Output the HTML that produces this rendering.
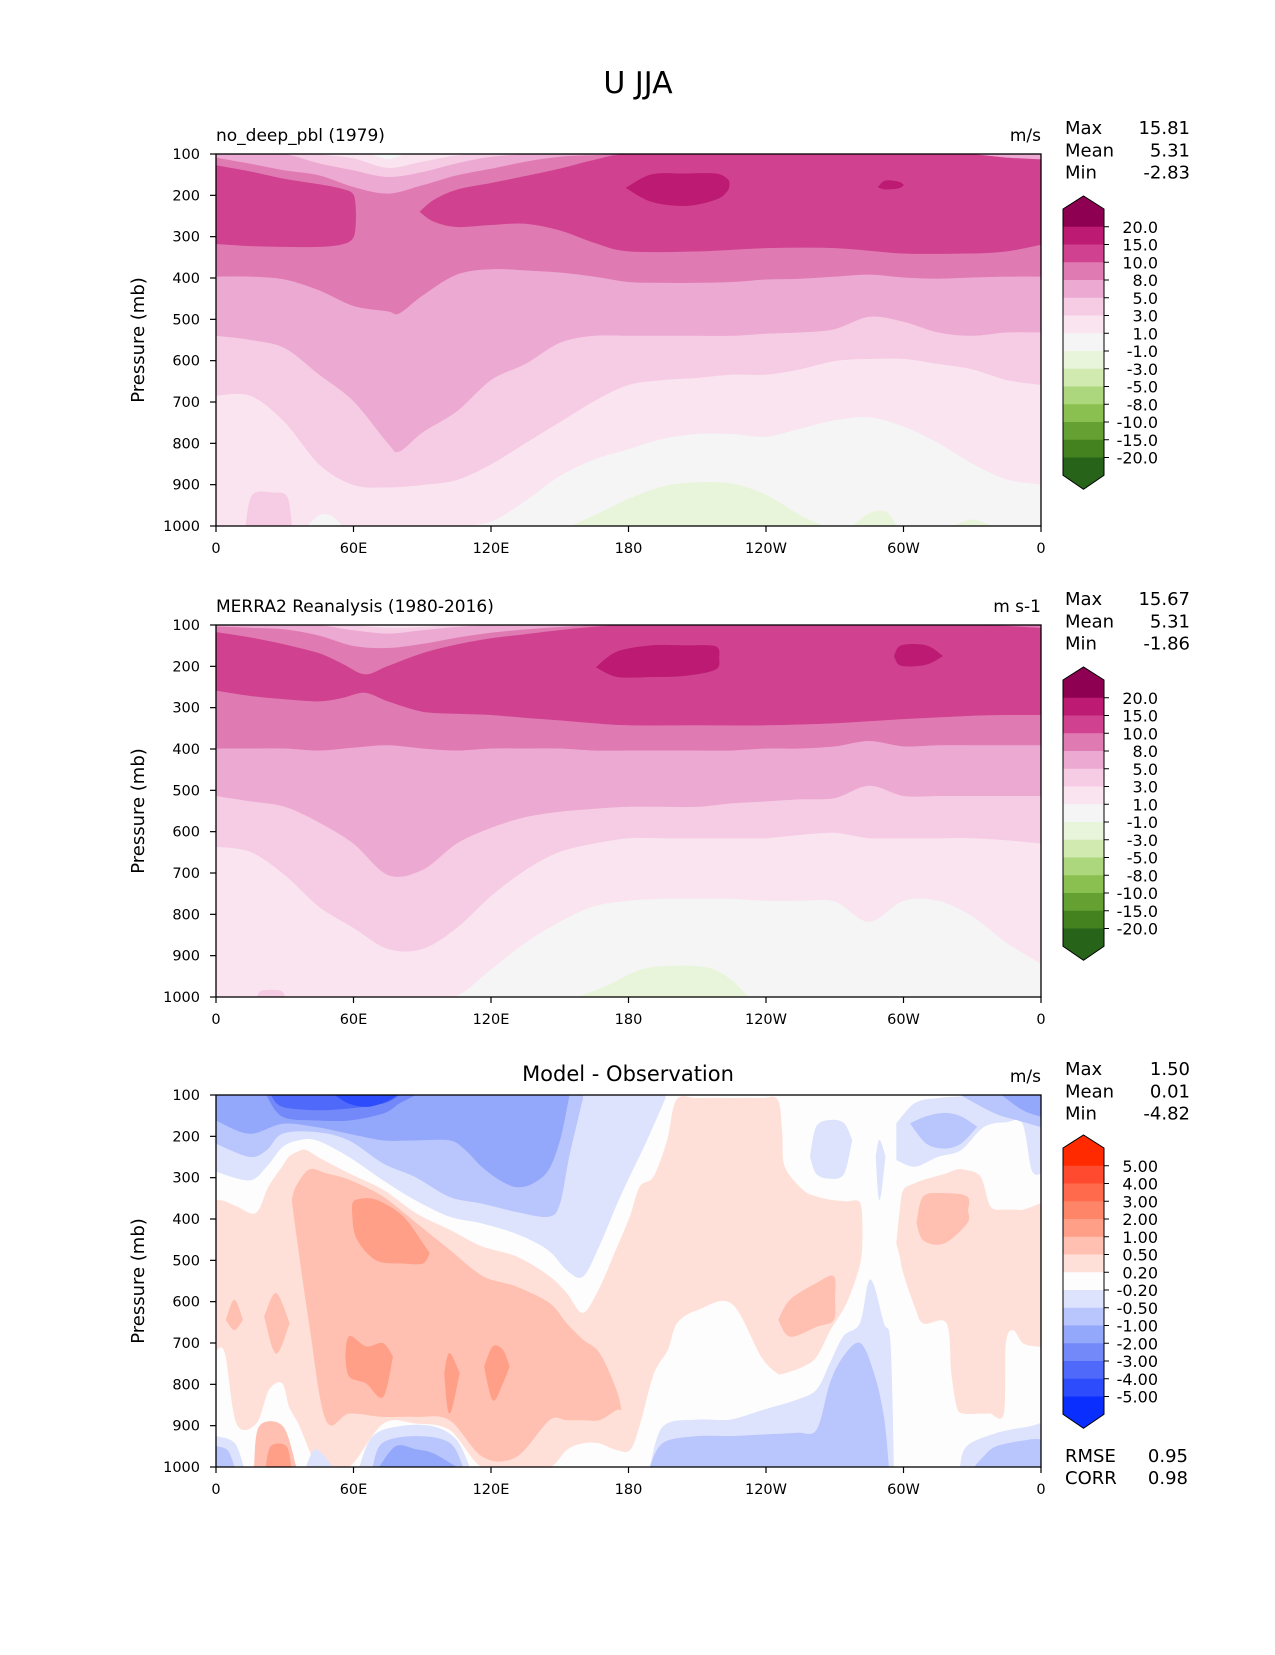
<!DOCTYPE html>
<html><head><meta charset="utf-8">
<style>
body{margin:0;background:#fff;}
svg text{font-family:"DejaVu Sans","Liberation Sans",sans-serif;fill:#000;}
</style></head>
<body>
<svg id="fig" xmlns="http://www.w3.org/2000/svg" width="1275" height="1650" viewBox="0 0 1275 1650">
<rect width="1275" height="1650" fill="#fff"/>
<text x="638" y="93" font-size="30" text-anchor="middle">U JJA</text>
</svg>
<script>
// ---------- colour scales ----------
const piygColors = ['#8e0152','#bd1a73','#d0428f','#e07ab3','#eca9d1','#f6cbe4','#f9e4ef','#f5f5f5','#e8f5da','#d0eab0','#acd77d','#89c04f','#64a132','#43821f','#276419'];
const piygLabels = ['20.0','15.0','10.0','8.0','5.0','3.0','1.0','-1.0','-3.0','-5.0','-8.0','-10.0','-15.0','-20.0'];
const diffColors = ['#ff2a00','#ff4a30','#ff6a4c','#ff8568','#ff9f88','#ffc0b1','#ffe0d8','#fdfdfd','#dde3fd','#b9c5fd','#94a8fb','#7389f9','#4f6afa','#2d4cfc','#0a2efd'];
const diffLabels = ['5.00','4.00','3.00','2.00','1.00','0.50','0.20','-0.20','-0.50','-1.00','-2.00','-3.00','-4.00','-5.00'];

// ---------- axes ----------
const yTicks = [100,200,300,400,500,600,700,800,900,1000];
const xTickLons = [0,60,120,180,240,300,360];
const xTickLabels = ['0','60E','120E','180','120W','60W','0'];
const G = [0,15,30,45,60,75,90,105,120,135,150,165,180,195,210,225,240,255,270,285,300,315,330,345,360];

// ---------- panel 1 (model) ----------
const p1GrayTop = [1000,1000,1000,1000,1000,1000,1000,1000,990,940,880,840,815,790,778,778,785,765,745,738,760,800,850,888,900];
const p1F6Bot = [684,684,748,850,900,906,900,888,850,799,748,697,658,646,641,633,633,620,600,595,595,607,620,646,658];
const p1EcLons = [0,15,30,45,60,75,80,90,105,120,135,150,165,180,195,210,225,240,255,270,285,300,315,330,345,360];
const p1EcBot = [539,549,569,633,697,799,819,773,722,646,607,556,539,539,539,539,539,534,531,523,493,505,531,539,531,531];
const p1E0Lons = [0,15,30,45,60,75,80,90,105,120,135,150,165,180,195,210,225,240,255,270,285,300,315,330,345,360];
const p1E0Bot = [396,396,403,429,467,480,485,442,391,378,381,386,396,409,411,411,409,403,401,396,391,398,401,398,396,396];
const p1DLLons = [0,15,30,45,55,60,61];
const p1DLTop = [128,143,161,174,185,200,250];
const p1DLBot = [317,322,324,324,318,300,250];
const p1DRLons = [89,95,105,120,135,150,165,180,210,240,270,300,330,345,360];
const p1DRTop = [240,212,187,171,154,136,115,100,100,100,100,100,100,105,110];
const p1DRBot = [240,263,276,271,268,284,314,335,335,327,327,340,340,335,319];
const p1CoreLons = [179,190,205,218,223,224];
const p1CoreTop = [182,150,148,148,160,172];
const p1CoreBot = [182,215,225,210,190,172];
const p1Core2Lons = [289,292,298,300];
const p1Core2Top = [180,165,168,175];
const p1Core2Bot = [180,185,182,175];
const p1CapEc = [108,123,139,151,179,195,175,151,135,118,106,102,100,100,100,100,100,100,100,100,100,100,100,108,112];
const p1CapF6 = [100,100,100,122,139,155,143,122,106,100,100,100,100,100,100,100,100,100,100,100,100,100,100,100,100];
const p1CapF9Lons = [45,60,75,90,105,120];
const p1CapF9 = [100,110,133,118,103,100];
const p1CapWLons = [68,75,82];
const p1CapW = [100,112,100];
const p1GreenLons = [155,165,180,195,210,225,240,255,265];
const p1GreenTop = [1000,975,935,905,895,898,925,975,1000];
const p1Green2Lons = [278,285,292,297];
const p1Green2Top = [1000,970,965,1000];
const p1Green3Lons = [322,330,338];
const p1Green3Top = [1000,985,1000];
const p1PinkLons = [13,16,25,31,33];
const p1PinkTop = [1000,925,920,930,1000];
const p1GrayBitLons = [40,45,50,55];
const p1GrayBitTop = [1000,975,975,1000];

// ---------- panel 2 (MERRA2) ----------
const p2GrayTop = [1000,1000,1000,1000,1000,1000,1000,998,934,870,819,781,768,763,763,763,768,768,770,819,768,768,806,870,921];
const p2F6Bot = [636,648,704,781,832,883,883,832,755,692,648,628,615,615,615,615,615,607,602,615,615,615,615,620,628];
const p2EcBot = [513,526,539,577,628,704,692,628,590,564,551,544,539,539,539,531,526,521,518,488,513,513,513,513,513];
const p2E0Bot = [398,398,398,403,396,390,398,403,398,398,398,403,403,403,403,403,398,398,393,380,393,390,390,390,390];
const p2DLons = [0,15,30,45,55,65,75,90,105,120,135,150,165,180,210,240,270,300,330,345,360];
const p2DTop = [118,131,148,169,194,220,200,169,148,133,123,113,105,100,100,100,100,100,100,103,108];
const p2DBot = [258,271,279,284,276,263,284,309,314,317,324,330,337,342,342,342,337,327,319,317,317];
const p2CoreLons = [166,175,190,205,218,219.5];
const p2CoreTop = [202,165,150,150,152,180];
const p2CoreBot = [202,225,225,222,207,180];
const p2Core2Lons = [296,299,310,317];
const p2Core2Top = [175,150,150,175];
const p2Core2Bot = [175,198,195,175];
const p2CapEc = [103,106,110,125,150,155,145,130,118,110,104,100,100,100,100,100,100,100,100,100,100,100,100,100,100];
const p2CapF6 = [100,100,100,100,112,120,112,104,100,100,100,100,100,100,100,100,100,100,100,100,100,100,100,100,100];
const p2CapF9Lons = [60,75,90,100];
const p2CapF9 = [100,106,104,100];
const p2GreenLons = [158,170,185,200,215,225,232];
const p2GreenTop = [1000,975,935,925,930,960,1000];
const p2PinkLons = [18,20,28,30];
const p2PinkTop = [1000,985,985,1000];

// ---------- panel 3 (difference) ----------
const p3BlueALons = [0,14.5,22,29,36,44,58,73,87,102,116,131,145,153,160,167,175,181,188,196];
const p3BlueABot = [285,306,273,225,209,209,249,306,354,394,410,435,475,523,539,467,362,290,209,108];
const p3BlueBLons = [0,14.5,22,29,44,58,73,87,102,116,131,145,150,154,160];
const p3BlueBBot = [217,249,233,193,189,209,265,298,346,362,382,394,362,249,108];
const p3BlueCLons = [0,14.5,29,44,58,73,87,102,109,116,124,131,138,145,150,154];
const p3BlueCBot = [161,193,169,177,193,209,209,209,233,273,306,322,314,281,209,104];
const p3BlueDLons = [22,29,44,58,73,80,87];
const p3BlueDBot = [100,152,161,161,144,120,100];
const p3BlueELons = [24,29,44,58,73,80];
const p3BlueEBot = [100,128,136,132,120,100];
const p3BlueFLons = [52,58,66,74,79];
const p3BlueFBot = [100,120,128,116,100];
const p3PinkLons = [0,4,9,17.5,23,29,32,36,39,44,46.5,58,73,87,102,116,131,145.5,153,160,167,174.6,180.7,185,191,197,201,210,225,238,245,247,248,256,262,268,275,281,282];
const p3PinkTop = [354,358,370,386,322,273,249,237,233,249,257,290,330,386,427,467,491,539,580,628,572,475,394,322,298,209,112,108,108,108,112,193,273,330,346,354,358,362,435];
const p3PinkBot = [717,725,894,894,813,797,854,894,934,1000,1000,1000,894,894,910,1000,1000,1000,958,942,942,958,958,894,773,717,652,620,604,733,773,773,773,757,733,668,604,507,435];
const p3PinkRLons = [297,298.5,300,305,308.7,318.9,321,323.3,326.2,333.5,337.8,343.7,344.5,348,352.4,360];
const p3PinkRTop = [459,378,330,314,306,290,285,281,281,298,370,378,378,378,378,362];
const p3PinkRBot = [459,491,531,612,652,652,773,854,870,870,870,870,701,668,701,709];
const p3MidLons = [33.2,34.9,40.7,48,58.2,72.8,87.3,101.9,116.4,131,145.5,152.8,160,167.3,174.6,176.8];
const p3MidTop = [354,322,281,290,306,346,410,475,539,564,604,652,692,725,813,862];
const p3MidBot = [354,427,652,886,870,878,878,886,975,975,886,886,886,886,862,862];
const p3HotLons = [59.4,61.1,69.8,81.5,90.2,93.1];
const p3HotTop = [370,354,354,394,459,483];
const p3HotBot = [370,443,499,507,507,483];
const p3StrALons = [56.5,58.2,65.5,72.8,77.1];
const p3StrATop = [733,684,709,701,733];
const p3StrABot = [733,781,797,830,733];
const p3StrBLons = [99.7,101.9,106.2];
const p3StrBTop = [773,725,773];
const p3StrBBot = [773,870,773];
const p3StrCLons = [117.1,120.8,125.1,128];
const p3StrCTop = [757,709,717,757];
const p3StrCBot = [757,838,797,757];
const p3SmAlons = [4.4,8,11.6];
const p3SmATop = [644,596,644];
const p3SmABot = [644,668,644];
const p3SmBLons = [21.1,26.2,32];
const p3SmBTop = [636,580,652];
const p3SmBBot = [636,725,652];
const p3BLMidLons = [16.7,18.9,29.1,34.9];
const p3BLMidTop = [1000,902,902,1000];
const p3BLHotLons = [21.8,24,30.6,32.7];
const p3BLHotTop = [1000,950,950,1000];
const p3MidCLons = [245.5,250.5,262.2,269.5,270];
const p3MidCTop = [644,596,555,539,592];
const p3MidCBot = [644,684,660,644,592];
const p3MidRLons = [305.8,308.7,317.5,327.7,328];
const p3MidRTop = [410,346,338,346,380];
const p3MidRBot = [410,451,459,410,380];
const p3BotA1Lons = [62.6,68.4,80,94.6,104.8,110.6];
const p3BotA1Top = [1000,926,902,902,934,1000];
const p3BotA2Lons = [68.4,72.8,87.3,101.9,107.7];
const p3BotA2Top = [1000,942,926,942,1000];
const p3BotA3Lons = [71.3,78.6,87.3,94.6,104.8];
const p3BotA3Top = [1000,950,958,967,1000];
const p3BotL1Lons = [0,8,12];
const p3BotL1Top = [926,942,1000];
const p3BotL2Lons = [0,5,8];
const p3BotL2Top = [950,960,1000];
const p3BotL3Lons = [39.3,43.6,50.9];
const p3BotL3Top = [1000,958,1000];
const p3BotB1Lons = [189.4,195.2,209.8,224.4,238.9,253.5,262.2,268,273.8,281.1,285.5,291.3,294.2,295.7];
const p3BotB1Top = [1000,902,886,886,862,838,813,749,684,652,547,652,701,1000];
const p3BotB2Lons = [189.4,195.2,209.8,224.4,238.9,253.5,262.2,268,273.8,281.1,287,291.3,293.5];
const p3BotB2Top = [1000,942,926,926,922,918,910,797,733,701,773,878,1000];
const p3BotR1Lons = [324.7,327.7,340.8,355.3,360];
const p3BotR1Top = [1000,950,918,902,894];
const p3BotR2Lons = [331,335,340.8,355.3,360];
const p3BotR2Top = [1000,975,950,934,934];
const p3R1Lons = [259.3,262,268,274,277.5];
const p3R1Top = [249,177,161,169,209];
const p3R1Bot = [249,290,302,290,209];
const p3R2Lons = [297,305,315,325,335,345,352,356,360];
const p3R2Top = [169,120,108,104,100,100,100,100,100];
const p3R2Bot = [257,273,249,233,177,165,169,281,290];
const p3R3Lons = [303,310,318,325,332];
const p3R3Top = [169,152,144,152,177];
const p3R3Bot = [169,217,229,217,177];
const p3R3bLons = [325,340,350,360];
const p3R3bBot = [100,144,161,177];
const p3R4Lons = [343,352,360];
const p3R4Bot = [100,136,152];
const p3StreakLons = [288,289.5,292];
const p3StreakTop = [249,209,249];
const p3StreakBot = [249,354,249];

// ---------- drawing ----------
const NS = 'http://www.w3.org/2000/svg';
const svg = document.getElementById('fig');
const X0 = 216, X1 = 1041, PH = 372;
function xOf(lon){ return X0 + lon/360*(X1-X0); }
function mk(tag, attrs, parent){
  const e = document.createElementNS(NS, tag);
  for (const k in attrs) e.setAttribute(k, attrs[k]);
  (parent||svg).appendChild(e);
  return e;
}
function txt(str, attrs, parent){ const t = mk('text', attrs, parent); t.textContent = str; return t; }

// smooth (Catmull-Rom) curve through points, returns path segment string (without initial M)
function curve(pts){
  let s = '';
  for (let i=0;i<pts.length-1;i++){
    const p0 = pts[Math.max(0,i-1)], p1 = pts[i], p2 = pts[i+1], p3 = pts[Math.min(pts.length-1,i+2)];
    const c1x = p1[0] + (p2[0]-p0[0])/6, c1y = p1[1] + (p2[1]-p0[1])/6;
    const c2x = p2[0] - (p3[0]-p1[0])/6, c2y = p2[1] - (p3[1]-p1[1])/6;
    s += ' C' + c1x.toFixed(1)+','+c1y.toFixed(1)+' '+c2x.toFixed(1)+','+c2y.toFixed(1)+' '+p2[0].toFixed(1)+','+p2[1].toFixed(1);
  }
  return s;
}

function makePanel(idx, y0){
  const yOf = p => y0 + (p-100)/900*PH;
  const g = mk('g', {'clip-path':'url(#clip'+idx+')'});
  
  
  const cp = mk('clipPath', {id:'clip'+idx});
  mk('rect', {x:X0, y:y0, width:X1-X0, height:PH}, cp);
  function band(lons, tops, bots, color, name){
    const top = [], bot = [];
    for (let i=0;i<lons.length;i++){
      top.push([xOf(lons[i]), yOf(tops ? tops[i] : 100) - (tops ? 0 : 3)]);
      bot.push([xOf(lons[i]), yOf(bots ? bots[i] : 1000) + (bots ? 0 : 3)]);
    }
    bot.reverse();
    const d = 'M' + top[0][0].toFixed(1)+','+top[0][1].toFixed(1) + curve(top) +
      ' L' + bot[0][0].toFixed(1)+','+bot[0][1].toFixed(1) + curve(bot) + ' Z';
    const path = mk('path', {d:d, fill:color, stroke:color, 'stroke-width':0.6}, g);
    
    
  }
  return {g, yOf, band, y0};
}

function drawAxes(P, idx){
  const y0 = P.y0;
  const fr = mk('rect', {x:X0, y:y0, width:X1-X0, height:PH, fill:'none', stroke:'#000', 'stroke-width':1.3});
  
  
  yTicks.forEach(p => {
    const y = P.yOf(p);
    mk('line', {x1:X0-6, x2:X0, y1:y, y2:y, stroke:'#000', 'stroke-width':1.2});
    const t = txt(String(p), {x:200, y:y+5, 'font-size':14.5, 'text-anchor':'end'});
    
    
  });
  xTickLons.forEach((lon,i) => {
    const x = xOf(lon);
    mk('line', {x1:x, x2:x, y1:y0+PH, y2:y0+PH+6, stroke:'#000', 'stroke-width':1.2});
    const t = txt(xTickLabels[i], {x:x, y:y0+PH+27, 'font-size':14.5, 'text-anchor':'middle'});
    
    
  });
  const yl = txt('Pressure (mb)', {x:0, y:0, 'font-size':18, 'text-anchor':'middle', transform:'translate(144,'+(y0+PH/2)+') rotate(-90)'});
  
  
}

function drawColorbar(top, colors, labels, idx){
  const cx0 = 1063, cx1 = 1104, bh = 17.75, rt = top + 13;
  const cb = mk('g', {});
  
  
  mk('polygon', {points:cx0+','+rt+' '+(cx0+cx1)/2+','+top+' '+cx1+','+rt, fill:colors[0]}, cb);
  colors.forEach((c,i) => {
    const r = mk('rect', {x:cx0, y:rt+i*bh, width:cx1-cx0, height:bh+0.5, fill:c}, cb);
    
    
  });
  const rb = rt + colors.length*bh;
  mk('polygon', {points:cx0+','+rb+' '+(cx0+cx1)/2+','+(rb+14)+' '+cx1+','+rb, fill:colors[colors.length-1]}, cb);
  mk('polygon', {points:cx0+','+rt+' '+(cx0+cx1)/2+','+top+' '+cx1+','+rt+' '+cx1+','+rb+' '+(cx0+cx1)/2+','+(rb+14)+' '+cx0+','+rb, fill:'none', stroke:'#000', 'stroke-width':1}, cb);
  labels.forEach((l,i) => {
    const y = rt + (i+1)*bh;
    mk('line', {x1:cx1, x2:cx1+5, y1:y, y2:y, stroke:'#000', 'stroke-width':1}, cb);
    const t = txt(l, {x:1158, y:y+6, 'font-size':16, 'text-anchor':'end'}, cb);
    
    
  });
}

function drawStats(y0, vals, idx){
  const names = ['Max','Mean','Min'];
  names.forEach((n,i) => {
    const y = y0 - 20 + i*22.3;
    const a = txt(n, {x:1065, y:y, 'font-size':18});  
    const b = txt(vals[i], {x:1190, y:y, 'font-size':18, 'text-anchor':'end'});  
  });
}

const C = piygColors;
// Panel 1
(function(){
  const P = makePanel(1, 154);
  mk('rect', {x:X0, y:154, width:X1-X0, height:PH, fill:C[6]}, P.g);
  P.band(G, p1GrayTop, null, C[7], 'band-near-zero');
  P.band(p1GrayBitLons, p1GrayBitTop, null, C[7], 'band-near-zero');
  P.band(p1GreenLons, p1GreenTop, null, C[8], 'band-negative');
  P.band(p1Green2Lons, p1Green2Top, null, C[8], 'band-negative');
  P.band(p1Green3Lons, p1Green3Top, null, C[8], 'band-negative');
  P.band(p1PinkLons, p1PinkTop, null, C[5], 'band-3-5');
  P.band(G, null, p1F6Bot, C[5], 'band-3-5');
  P.band(p1EcLons, null, p1EcBot, C[4], 'band-5-8');
  P.band(p1E0Lons, null, p1E0Bot, C[3], 'band-8-10');
  P.band(p1DLLons, p1DLTop, p1DLBot, C[2], 'band-10-15');
  P.band(p1DRLons, p1DRTop, p1DRBot, C[2], 'band-10-15');
  P.band(p1CoreLons, p1CoreTop, p1CoreBot, C[1], 'band-15-20');
  P.band(p1Core2Lons, p1Core2Top, p1Core2Bot, C[1], 'band-15-20');
  P.band(G, null, p1CapEc, C[4], 'band-5-8');
  P.band(G, null, p1CapF6, C[5], 'band-3-5');
  P.band(p1CapF9Lons, null, p1CapF9, C[6], 'band-1-3');
  P.band(p1CapWLons, null, p1CapW, C[7], 'band-near-zero');
  drawAxes(P, 1);
  const t = txt('no_deep_pbl (1979)', {x:216, y:141, 'font-size':17});  
  const u = txt('m/s', {x:1041, y:141, 'font-size':17, 'text-anchor':'end'});  
  drawStats(154, ['15.81','5.31','-2.83'], 1);
  drawColorbar(196, piygColors, piygLabels, 1);
})();
// Panel 2
(function(){
  const P = makePanel(2, 625);
  mk('rect', {x:X0, y:625, width:X1-X0, height:PH, fill:C[6]}, P.g);
  P.band(G, p2GrayTop, null, C[7], 'band-near-zero');
  P.band(p2GreenLons, p2GreenTop, null, C[8], 'band-negative');
  P.band(p2PinkLons, p2PinkTop, null, C[5], 'band-3-5');
  P.band(G, null, p2F6Bot, C[5], 'band-3-5');
  P.band(G, null, p2EcBot, C[4], 'band-5-8');
  P.band(G, null, p2E0Bot, C[3], 'band-8-10');
  P.band(p2DLons, p2DTop, p2DBot, C[2], 'band-10-15');
  P.band(p2CoreLons, p2CoreTop, p2CoreBot, C[1], 'band-15-20');
  P.band(p2Core2Lons, p2Core2Top, p2Core2Bot, C[1], 'band-15-20');
  P.band(G, null, p2CapEc, C[4], 'band-5-8');
  P.band(G, null, p2CapF6, C[5], 'band-3-5');
  P.band(p2CapF9Lons, null, p2CapF9, C[6], 'band-1-3');
  drawAxes(P, 2);
  const t = txt('MERRA2 Reanalysis (1980-2016)', {x:216, y:612, 'font-size':17});  
  const u = txt('m s-1', {x:1041, y:612, 'font-size':17, 'text-anchor':'end'});  
  drawStats(625, ['15.67','5.31','-1.86'], 2);
  drawColorbar(667, piygColors, piygLabels, 2);
})();
// Panel 3
(function(){
  const D = diffColors;
  const P = makePanel(3, 1095);
  mk('rect', {x:X0, y:1095, width:X1-X0, height:PH, fill:D[7]}, P.g);
  P.band(p3BlueALons, null, p3BlueABot, D[8], 'band-neg-small');
  P.band(p3BlueBLons, null, p3BlueBBot, D[9], 'band-neg-05');
  P.band(p3BlueCLons, null, p3BlueCBot, D[10], 'band-neg-1');
  P.band(p3BlueDLons, null, p3BlueDBot, D[11], 'band-neg-2');
  P.band(p3BlueELons, null, p3BlueEBot, D[12], 'band-neg-3');
  P.band(p3BlueFLons, null, p3BlueFBot, D[13], 'band-neg-4');
  P.band(p3PinkLons, p3PinkTop, p3PinkBot, D[6], 'band-pos-small');
  P.band(p3PinkRLons, p3PinkRTop, p3PinkRBot, D[6], 'band-pos-small');
  P.band(p3MidLons, p3MidTop, p3MidBot, D[5], 'band-pos-05');
  P.band(p3SmAlons, p3SmATop, p3SmABot, D[5], 'band-pos-05');
  P.band(p3SmBLons, p3SmBTop, p3SmBBot, D[5], 'band-pos-05');
  P.band(p3BLMidLons, p3BLMidTop, null, D[5], 'band-pos-05');
  P.band(p3MidCLons, p3MidCTop, p3MidCBot, D[5], 'band-pos-05');
  P.band(p3MidRLons, p3MidRTop, p3MidRBot, D[5], 'band-pos-05');
  P.band(p3HotLons, p3HotTop, p3HotBot, D[4], 'band-pos-1');
  P.band(p3StrALons, p3StrATop, p3StrABot, D[4], 'band-pos-1');
  P.band(p3StrBLons, p3StrBTop, p3StrBBot, D[4], 'band-pos-1');
  P.band(p3StrCLons, p3StrCTop, p3StrCBot, D[4], 'band-pos-1');
  P.band(p3BLHotLons, p3BLHotTop, null, D[4], 'band-pos-1');
  P.band(p3BotA1Lons, p3BotA1Top, null, D[8], 'band-neg-small');
  P.band(p3BotA2Lons, p3BotA2Top, null, D[9], 'band-neg-05');
  P.band(p3BotA3Lons, p3BotA3Top, null, D[10], 'band-neg-1');
  P.band(p3BotL1Lons, p3BotL1Top, null, D[8], 'band-neg-small');
  P.band(p3BotL2Lons, p3BotL2Top, null, D[9], 'band-neg-05');
  P.band(p3BotL3Lons, p3BotL3Top, null, D[8], 'band-neg-small');
  P.band(p3BotB1Lons, p3BotB1Top, null, D[8], 'band-neg-small');
  P.band(p3BotB2Lons, p3BotB2Top, null, D[9], 'band-neg-05');
  P.band(p3BotR1Lons, p3BotR1Top, null, D[8], 'band-neg-small');
  P.band(p3BotR2Lons, p3BotR2Top, null, D[9], 'band-neg-05');
  P.band(p3R1Lons, p3R1Top, p3R1Bot, D[8], 'band-neg-small');
  P.band(p3R2Lons, p3R2Top, p3R2Bot, D[8], 'band-neg-small');
  P.band(p3R3Lons, p3R3Top, p3R3Bot, D[9], 'band-neg-05');
  P.band(p3R3bLons, null, p3R3bBot, D[9], 'band-neg-05');
  P.band(p3R4Lons, null, p3R4Bot, D[10], 'band-neg-1');
  P.band(p3StreakLons, p3StreakTop, p3StreakBot, D[8], 'band-neg-small');
  drawAxes(P, 3);
  const t = txt('Model - Observation', {x:628, y:1081, 'font-size':21, 'text-anchor':'middle'});  
  const u = txt('m/s', {x:1041, y:1082, 'font-size':17, 'text-anchor':'end'});  
  drawStats(1095, ['1.50','0.01','-4.82'], 3);
  drawColorbar(1135, diffColors, diffLabels, 3);
  const r1 = txt('RMSE', {x:1065, y:1462, 'font-size':18});  
  const r2 = txt('0.95', {x:1188, y:1462, 'font-size':18, 'text-anchor':'end'});  
  const c1 = txt('CORR', {x:1065, y:1484, 'font-size':18});  
  const c2 = txt('0.98', {x:1188, y:1484, 'font-size':18, 'text-anchor':'end'});  
})();
</script>
</body></html>
